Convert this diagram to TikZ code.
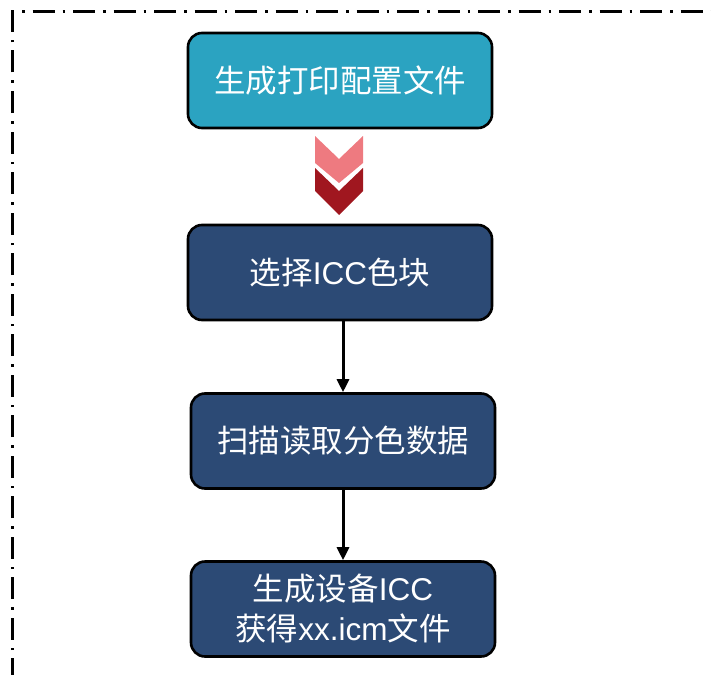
\documentclass[tikz,border=0pt]{standalone}
\usepackage{fontspec}
\setmainfont{Liberation Sans}
\newfontfamily\cjk{Noto Sans CJK SC}
\usetikzlibrary{arrows.meta}
\definecolor{teal1}{HTML}{2BA3C1}
\definecolor{navy1}{HTML}{2C4A75}
\definecolor{pink1}{HTML}{EE7A80}
\definecolor{red1}{HTML}{A0171F}
\tikzset{
  box/.style={draw=black, line width=2.6pt, rounded corners=14pt, text=white,
    minimum width=304pt, minimum height=95pt, align=center, font=\fontsize{31.5}{40}\selectfont, inner sep=0pt},
  conn/.style={-{Triangle[length=13pt,width=12pt]}, line width=3pt},
  frame/.style={line width=3pt, dash pattern=on 22pt off 8pt on 2.5pt off 8pt}
}
\begin{document}
\begin{tikzpicture}[x=1pt,y=-1pt]
\useasboundingbox (0,0) rectangle (711,674);
\draw[frame] (12,680) -- (12,12) -- (720,12);
\node[box, fill=teal1] (b1) at (340,80.5) {\cjk 生成打印配置文件};
\node[box, fill=navy1] (b2) at (340,272.5) {{\cjk 选择}ICC{\cjk 色块}};
\node[box, fill=navy1] (b3) at (343,441) {\cjk 扫描读取分色数据};
\node[box, fill=navy1] (b4) at (343,609) {{\cjk 生成设备}ICC\\{\cjk 获得}xx.icm{\cjk 文件}};
\fill[pink1] (315,136) -- (339,159) -- (363,136) -- (363,163) -- (339,183) -- (315,163) -- cycle;
\fill[red1] (315,168) -- (339,191) -- (363,168) -- (363,191) -- (339,215) -- (315,191) -- cycle;
\draw[conn] (b2.south -| b3.north) -- (b3.north);
\draw[conn] (b3) -- (b4);
\end{tikzpicture}
\end{document}
